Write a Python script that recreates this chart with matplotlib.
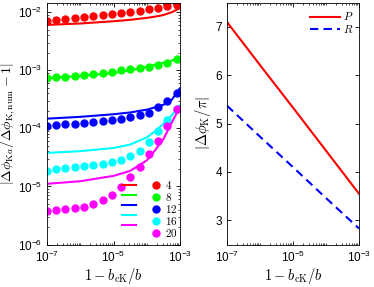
import numpy as np
import matplotlib
matplotlib.use("Agg")
import matplotlib.pyplot as plt
from matplotlib.ticker import LogLocator, FixedLocator, NullFormatter

plt.rcParams['font.family'] = ['Liberation Sans', 'DejaVu Sans']
plt.rcParams['mathtext.fontset'] = 'cm'

# ---------------- data: left panel ----------------
orders = ['4', '8', '12', '16', '20']
colors = ['#ff0000', '#00ff00', '#0000ff', '#00ffff', '#ff00ff']

# numerical points (dots)
x_dots = [1.0e-7, 1.9e-7, 3.6e-7, 6.8e-7, 1.3e-6, 2.5e-6, 4.7e-6, 8.9e-6,
          1.7e-5, 3.2e-5, 6.1e-5, 1.2e-4, 2.2e-4, 4.2e-4, 8.0e-4]
dots_4 = [7.17e-3, 7.38e-3, 7.67e-3, 7.98e-3, 8.30e-3, 8.53e-3, 8.88e-3, 9.24e-3,
          9.61e-3, 1.01e-2, 1.06e-2, 1.13e-2, 1.19e-2, 1.27e-2, 1.35e-2]
dots_8 = [7.23e-4, 7.52e-4, 7.82e-4, 8.05e-4, 8.37e-4, 8.71e-4, 9.06e-4, 9.53e-4,
          9.93e-4, 1.05e-3, 1.10e-3, 1.16e-3, 1.24e-3, 1.35e-3, 1.56e-3]
dots_12 = [1.11e-4, 1.14e-4, 1.17e-4, 1.20e-4, 1.24e-4, 1.27e-4, 1.32e-4, 1.37e-4,
           1.45e-4, 1.55e-4, 1.67e-4, 1.84e-4, 2.35e-4, 3.00e-4, 4.06e-4]
dots_16 = [1.87e-5, 2.00e-5, 2.11e-5, 2.20e-5, 2.29e-5, 2.38e-5, 2.48e-5, 2.65e-5,
           2.86e-5, 3.30e-5, 4.14e-5, 5.84e-5, 8.87e-5, 1.39e-4, 2.18e-4]
dots_20 = [3.71e-6, 3.86e-6, 4.01e-6, 4.22e-6, 4.51e-6, 5.02e-6, 5.73e-6, 7.18e-6,
           9.68e-6, 1.44e-5, 2.17e-5, 3.67e-5, 6.15e-5, 1.11e-4, 2.14e-4]

# analytic curves (lines)
x_line = [1e-7, 1e-6, 1e-5, 3.16e-5, 1e-4, 1.78e-4, 3.16e-4, 5.62e-4, 1e-3]
line_4 = [6.05e-3, 6.40e-3, 7.00e-3, 7.40e-3, 8.00e-3, 8.40e-3, 8.95e-3, 1.00e-2, 1.18e-2]
line_8 = [7.30e-4, 8.00e-4, 9.00e-4, 1.00e-3, 1.15e-3, 1.25e-3, 1.35e-3, 1.47e-3, 1.65e-3]
line_12 = [1.47e-4, 1.58e-4, 1.75e-4, 1.88e-4, 2.10e-4, 2.30e-4, 2.55e-4, 3.10e-4, 4.90e-4]
line_16 = [3.78e-5, 4.05e-5, 4.60e-5, 5.25e-5, 7.00e-5, 8.90e-5, 1.20e-4, 1.68e-4, 2.50e-4]
line_20 = [1.11e-5, 1.23e-5, 1.52e-5, 1.85e-5, 2.80e-5, 4.20e-5, 6.50e-5, 1.25e-4, 2.35e-4]

# ---------------- data: right panel ----------------
x_right = [1e-7, 1e-6, 1e-5, 1e-4, 1e-3]
P_vals = [7.10, 6.21, 5.33, 4.44, 3.55]
R_vals = [5.37, 4.73, 4.10, 3.46, 2.83]

dots_all = [dots_4, dots_8, dots_12, dots_16, dots_20]
lines_all = [line_4, line_8, line_12, line_16, line_20]

W, H = 374, 287
fig = plt.figure(figsize=(W / 100, H / 100), dpi=100)

top_px, bot_px = 2.7, 244.5
axL = fig.add_axes([47 / W, 1 - bot_px / H, 133 / W, (bot_px - top_px) / H])
axR = fig.add_axes([227 / W, 1 - bot_px / H, 132 / W, (bot_px - top_px) / H])

line_handles = []
dot_handles = []
for c, ys_l, ys_d in zip(colors, lines_all, dots_all):
    l, = axL.plot(x_line, ys_l, '-', color=c, lw=1.5)
    d, = axL.plot(x_dots, ys_d, 'o', color=c, ms=5, mec=c, ls='none')
    line_handles.append(l)
    dot_handles.append(d)

axL.set_xscale('log')
axL.set_yscale('log')
axL.set_xlim(1e-7, 1e-3)
axL.set_ylim(1e-6, 1.46e-2)
axL.set_xlabel(r'$1-b_{\mathrm{cK}}/b$', fontsize=10.5, labelpad=1)
axL.set_ylabel(r'$|\Delta\phi_{\mathrm{K}a}/\Delta\phi_{\mathrm{K,num}}-1|$', fontsize=10)
axL.yaxis.set_label_coords(-0.222, 0.5)

leg = axL.legend(line_handles + dot_handles, [''] * 5 + [f'${o}$' for o in orders],
                 ncol=2, frameon=False, fontsize=8, loc='lower right',
                 bbox_to_anchor=(1.05, -0.015), handlelength=1.3, handletextpad=0.2,
                 columnspacing=0.9, labelspacing=0.0, borderpad=0.3)

pl, = axR.plot(x_right, P_vals, '-', color='#ff0000', lw=1.5, label=r'$P$')
rl, = axR.plot(x_right, R_vals, '--', color='#0000ff', lw=1.5, dashes=(4, 2.5), label=r'$R$')
axR.set_xscale('log')
axR.set_xlim(1e-7, 1e-3)
axR.set_ylim(2.5, 7.5)
axR.yaxis.set_major_locator(FixedLocator([3, 4, 5, 6, 7]))
axR.set_xlabel(r'$1-b_{\mathrm{cK}}/b$', fontsize=10.5, labelpad=1)
axR.set_ylabel(r'$|\Delta\phi_{\mathrm{K}}/\pi|$', fontsize=10.5, labelpad=2)
axR.legend(frameon=False, fontsize=8, loc='upper right', handlelength=2.7,
           handletextpad=0.3, labelspacing=0.05, borderpad=0.2,
           bbox_to_anchor=(1.02, 1.0))

for ax in (axL, axR):
    ax.xaxis.set_major_locator(FixedLocator([1e-7, 1e-5, 1e-3]))
    ax.xaxis.set_minor_locator(LogLocator(base=10, subs=np.arange(1, 10), numticks=20))
    ax.xaxis.set_minor_formatter(NullFormatter())
    ax.tick_params(which='both', direction='in', top=True, right=True, labelsize=8.5)
    ax.tick_params(which='major', length=3, width=0.6)
    ax.tick_params(which='minor', length=1.5, width=0.5)
    for s in ax.spines.values():
        s.set_linewidth(0.6)

axL.yaxis.set_minor_locator(LogLocator(base=10, subs=np.arange(2, 10), numticks=20))
axL.yaxis.set_minor_formatter(NullFormatter())

fig.savefig('out.png', dpi=100)
